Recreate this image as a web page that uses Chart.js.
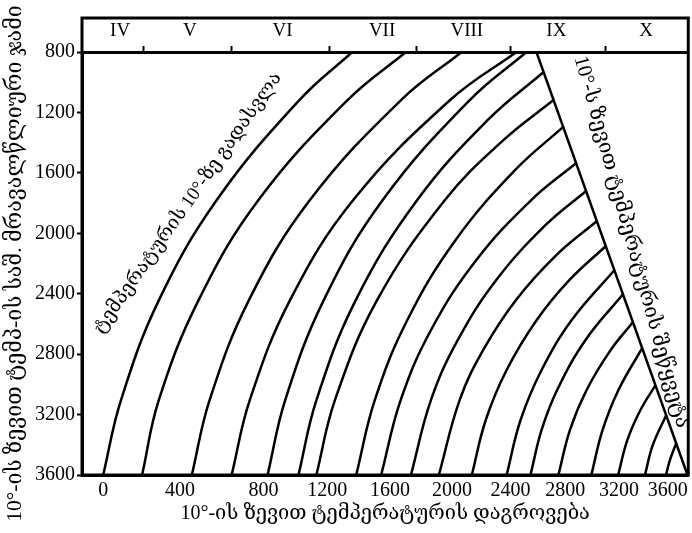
<!DOCTYPE html>
<html>
<head>
<meta charset="utf-8">
<script src="https://cdn.jsdelivr.net/npm/chart.js@4"></script>
<style>
  html, body { margin: 0; padding: 0; background: #fff; }
</style>
</head>
<body>
<canvas id="grafico" width="692" height="533"></canvas>
<script>
// ------------------------------------------------------
// Datos (suma de temperaturas vs altitud)
// ------------------------------------------------------
const xTickLabels = ["0", "400", "800", "1200", "1600", "2000", "2400", "2800", "3200", "3600"];
// las etiquetas del eje inferior no están igualmente espaciadas en el original
const xTickPos = [0, 489, 1022, 1429, 1829, 2223, 2597, 2946, 3289, 3600];

const monthLabels = ["IV", "V", "VI", "VII", "VIII", "IX", "X"];
const monthCenters = [108, 552, 1143, 1778, 2318, 2889, 3461];
const monthEdges = [254, 819, 1441, 2000, 2597, 3200];

// isolíneas: x = suma de temperaturas, y = altitud (m)
const curveX = [
  [0, 114, 356, 724, 1251, 1588],
  [248, 355, 609, 990, 1558, 1930],
  [565, 679, 930, 1318, 1899, 2286],
  [819, 935, 1192, 1594, 2212, 2635],
  [1048, 1161, 1407, 1782, 2337, 2699],
  [1245, 1360, 1611, 2002, 2452, 2808],
  [1359, 1478, 1747, 2179, 2553, 2871],
  [1613, 1732, 1939, 2247, 2627, 2933],
  [1772, 1897, 2090, 2379, 2729, 3016],
  [1962, 2090, 2261, 2506, 2821, 3079],
  [2140, 2273, 2423, 2632, 2889, 3148],
  [2350, 2439, 2572, 2764, 2973, 3205],
  [2572, 2661, 2795, 2987, 3260],
  [2724, 2795, 2894, 3075, 3315],
  [2902, 2976, 3082, 3236, 3378],
  [3112, 3184, 3285, 3437],
  [3283, 3342, 3425, 3522],
  [3454, 3504, 3590],
  [3588, 3613, 3654]
];
const curveY = [
  [3600, 3103, 2441, 1780, 1118, 800],
  [3600, 3103, 2441, 1780, 1118, 800],
  [3600, 3103, 2441, 1780, 1118, 800],
  [3600, 3103, 2441, 1780, 1118, 800],
  [3600, 3103, 2441, 1780, 1118, 800],
  [3600, 3103, 2441, 1780, 1250, 932],
  [3600, 3103, 2441, 1780, 1382, 1118],
  [3600, 3103, 2574, 2044, 1581, 1296],
  [3600, 3103, 2640, 2177, 1780, 1535],
  [3600, 3103, 2706, 2309, 1945, 1720],
  [3600, 3103, 2772, 2441, 2144, 1919],
  [3600, 3236, 2905, 2574, 2309, 2084],
  [3600, 3236, 2905, 2574, 2243],
  [3600, 3302, 3037, 2706, 2402],
  [3600, 3302, 3037, 2772, 2587],
  [3600, 3302, 3037, 2759],
  [3600, 3368, 3170, 3004],
  [3600, 3401, 3203],
  [3600, 3501, 3388]
];

// línea de fin del periodo > 10°
const stopX = [2762, 3725];
const stopY = [800, 3600];

const FUENTE = '"Liberation Serif", "DejaVu Serif", serif';

const rotulos = [
  { texto: "ტემპერატურის 10°-ზე გადასვლა", x: 540, y: 1800, angulo: -55, size: 19 },
  { texto: "10°-ს ზევით ტემპერატურის შეწყვეტა", x: 3366, y: 2058, angulo: 74.5, size: 20.5 }
];

const datasets = curveX.map((xs, i) => ({
  data: xs.map((x, j) => ({ x, y: curveY[i][j] })),
  showLine: true,
  borderColor: "#000",
  borderWidth: 2.5,
  pointRadius: 0,
  tension: 0.4,
  fill: false
}));
datasets.push({
  data: stopX.map((x, j) => ({ x, y: stopY[j] })),
  showLine: true,
  borderColor: "#000",
  borderWidth: 2.5,
  pointRadius: 0,
  tension: 0
});

// marco y caja de los meses + textos inclinados
const marco = {
  id: "marco",
  afterDraw(chart) {
    const { ctx, chartArea: a, scales } = chart;
    ctx.save();
    ctx.strokeStyle = "#000";
    ctx.lineWidth = 3;
    ctx.strokeRect(a.left, a.top - 34, a.right - a.left, a.bottom - a.top + 34);

    ctx.fillStyle = "#000";
    ctx.textAlign = "center";
    ctx.textBaseline = "middle";
    rotulos.forEach(r => {
      ctx.save();
      ctx.font = r.size + "px " + FUENTE;
      ctx.translate(scales.x.getPixelForValue(r.x), scales.y.getPixelForValue(r.y));
      ctx.rotate(r.angulo * Math.PI / 180);
      ctx.fillText(r.texto, 0, 0);
      ctx.restore();
    });
    ctx.restore();
  }
};

new Chart(document.getElementById("grafico"), {
  type: "scatter",
  data: { datasets },
  options: {
    responsive: false,
    animation: false,
    layout: { padding: { left: 0, right: 2, top: 0, bottom: 0 } },
    plugins: { legend: { display: false }, tooltip: { enabled: false } },
    scales: {
      x: {
        type: "linear",
        position: "bottom",
        min: -135,
        max: 3730,
        afterBuildTicks: s => { s.ticks = xTickPos.map(v => ({ value: v })); },
        afterFit: s => { s.height = 58; },
        ticks: {
          autoSkip: false,
          maxRotation: 0,
          padding: 4,
          color: "#000",
          font: { family: FUENTE, size: 20 },
          callback: (v, i) => xTickLabels[i]
        },
        grid: { display: false, drawTicks: false },
        border: { display: true, color: "#000", width: 3 },
        title: {
          display: true,
          text: "10°-ის ზევით ტემპერატურის დაგროვება",
          color: "#000",
          font: { family: FUENTE, size: 20 },
          padding: { top: 0, bottom: 7 }
        }
      },
      x2: {
        type: "linear",
        position: "top",
        min: -135,
        max: 3730,
        afterBuildTicks: s => {
          s.ticks = monthEdges.concat(monthCenters).sort((a, b) => a - b).map(v => ({ value: v }));
        },
        afterFit: s => { s.height = 52; },
        ticks: {
          autoSkip: false,
          maxRotation: 0,
          padding: 4,
          color: "#000",
          font: { family: FUENTE, size: 19 },
          callback: v => {
            const i = monthCenters.indexOf(v);
            return i >= 0 ? monthLabels[i] : "";
          }
        },
        grid: {
          drawOnChartArea: false,
          tickLength: 6,
          tickWidth: 2,
          tickColor: c => monthCenters.includes(c.tick.value) ? "rgba(0,0,0,0)" : "#000"
        },
        border: { display: true, color: "#000", width: 3 }
      },
      y: {
        type: "linear",
        reverse: true,
        min: 800,
        max: 3600,
        afterFit: s => { s.width = 82; },
        ticks: {
          stepSize: 400,
          padding: 2,
          color: "#000",
          font: { family: FUENTE, size: 20 },
          callback: v => String(v)
        },
        grid: { drawOnChartArea: false, tickLength: 5, tickWidth: 2, tickColor: "#000" },
        border: { display: true, color: "#000", width: 3 },
        title: {
          display: true,
          text: "10°-ის ზევით ტემპ-ის საშ. მრავალწლიური ჯამი",
          color: "#000",
          font: { family: FUENTE, size: 21.5 },
          padding: { top: 2, bottom: 0 }
        }
      }
    }
  },
  plugins: [marco]
});
</script>
</body>
</html>
